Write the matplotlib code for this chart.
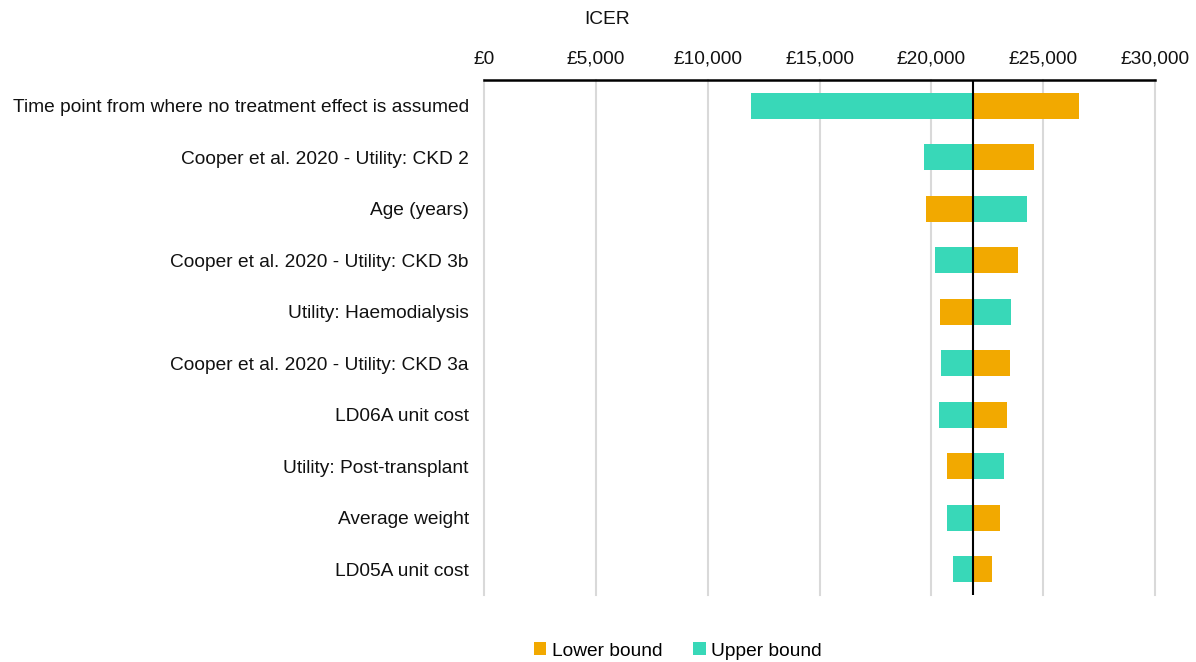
import numpy as np
from matplotlib import pyplot as plt
from matplotlib.ticker import FuncFormatter

# Tornado diagram - ICER one-way sensitivity
params = [
    'Time point from where no treatment effect is assumed',
    'Cooper et al. 2020 - Utility: CKD 2',
    'Age (years)',
    'Cooper et al. 2020 - Utility: CKD 3b',
    'Utility: Haemodialysis',
    'Cooper et al. 2020 - Utility: CKD 3a',
    'LD06A unit cost',
    'Utility: Post-transplant',
    'Average weight',
    'LD05A unit cost',
]
lower_bound = [26620, 24610, 19740, 23870, 20390, 23510, 23380, 20680, 23050, 22710]
upper_bound = [11940, 19650, 24280, 20170, 23560, 20440, 20350, 23230, 20680, 20990]
base_icer = 21850
x_ticks = [0, 5000, 10000, 15000, 20000, 25000, 30000]

ORANGE = '#F2A900'
TEAL = '#38D8B8'
FS = 13.8

plt.rcParams['font.family'] = ['Liberation Sans', 'DejaVu Sans']

fig = plt.figure(figsize=(11.96, 6.62), dpi=100)
ax = fig.add_axes([484 / 1196, 1 - 595 / 662, (1155 - 484) / 1196, (595 - 80) / 662])

y = np.arange(len(params))
lo = np.array(lower_bound) - base_icer
up = np.array(upper_bound) - base_icer

ax.barh(y, lo, left=base_icer, height=0.5, color=ORANGE, label='Lower bound', zorder=3)
ax.barh(y, up, left=base_icer, height=0.5, color=TEAL, label='Upper bound', zorder=3)
ax.axvline(base_icer, color='black', lw=1.5, zorder=4)

ax.set_xlim(0, 30000)
ax.set_ylim(len(params) - 0.5, -0.5)
ax.set_xticks(x_ticks)
ax.xaxis.set_major_formatter(FuncFormatter(lambda v, p: f'£{v:,.0f}'))
ax.xaxis.tick_top()
ax.set_yticks(y)
ax.set_yticklabels(params)
ax.tick_params(axis='both', length=0, labelsize=FS, colors='#111111')
ax.tick_params(axis='y', pad=11)
ax.tick_params(axis='x', pad=9)
ax.grid(axis='x', color='#d9d9d9', lw=1.5, zorder=0)
for gl in ax.get_xgridlines():
    gl.set_clip_on(False)

for s in ['left', 'right', 'bottom']:
    ax.spines[s].set_visible(False)
ax.spines['top'].set_linewidth(1.8)
ax.spines['top'].set_color('black')

fig.text(607 / 1196, 1 - 20 / 662, 'ICER', ha='center', va='center', fontsize=FS, color='#111111')

fig.legend(loc='center', bbox_to_anchor=(678 / 1196, 1 - 651 / 662), ncol=2, frameon=False,
           fontsize=FS, handlelength=0.65, handleheight=0.65, handletextpad=0.3,
           columnspacing=1.6)

fig.savefig('out.png', dpi=100)
